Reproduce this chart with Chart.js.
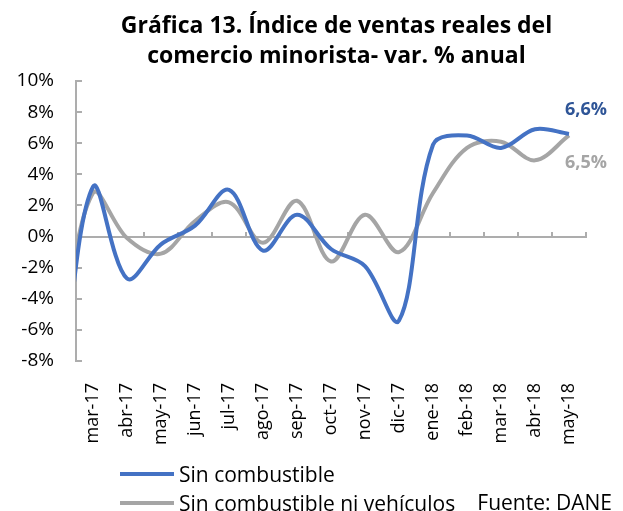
<!DOCTYPE html>
<html>
<head>
<meta charset="utf-8">
<script src="https://cdn.jsdelivr.net/npm/chart.js@4.4.1/dist/chart.umd.min.js"></script>
<style>
  body { margin: 0; background: #fff; font-family: "Open Sans", sans-serif; }
  #wrap { position: relative; width: 623px; height: 511px; overflow: hidden; }
  #title { position: absolute; left: 50px; width: 573px; top: 9px; text-align: center;
           font-size: 23px; font-weight: bold; line-height: 30px; color: #000; }
  #legend { position: absolute; left: 120px; top: 459px; font-size: 21px; color: #000; }
  .row { display: flex; align-items: center; height: 29px; white-space: nowrap; }
  .swatch { width: 54px; height: 4px; margin-right: 5px; }
  #fuente { position: absolute; right: 11px; top: 487px; font-size: 21px; color: #000; line-height: 30px; }
</style>
</head>
<body>
<div id="wrap">
  <canvas id="lineChart" width="623" height="511"></canvas>
  <div id="title">Gráfica 13. Índice de ventas reales del<br>comercio minorista- var. % anual</div>
  <div id="legend"></div>
  <div id="fuente">Fuente: DANE</div>
</div>
<script>
// first month (feb-17) sits left of the axis and is cut off, like in the original
const months = ['feb-17', 'mar-17', 'abr-17', 'may-17', 'jun-17', 'jul-17', 'ago-17', 'sep-17',
  'oct-17', 'nov-17', 'dic-17', 'ene-18', 'feb-18', 'mar-18', 'abr-18', 'may-18'];
const sinCombustible = [-11.0, 3.2, -2.7, -0.5, 0.7, 3.0, -0.9, 1.4, -0.8, -1.9, -5.4, 5.9, 6.5, 5.7, 6.9, 6.6];
const sinCombNiVehiculos = [-7.5, 2.8, -0.1, -1.1, 1.0, 2.2, -0.4, 2.3, -1.6, 1.4, -1.0, 2.8, 5.7, 6.1, 4.9, 6.5];
const yTicks = [-8, -6, -4, -2, 0, 2, 4, 6, 8, 10];

const FONT = '"Open Sans", sans-serif';
const AXIS_GREY = '#ADADAD';

const endLabels = {
  id: 'endLabels',
  afterDatasetsDraw(chart) {
    const ctx = chart.ctx;
    chart.data.datasets.forEach((ds, i) => {
      const meta = chart.getDatasetMeta(i);
      const pt = meta.data[meta.data.length - 1];
      const v = ds.data[ds.data.length - 1];
      ctx.save();
      ctx.font = 'bold 18px ' + FONT;
      ctx.fillStyle = ds.labelColor;
      ctx.textAlign = 'center';
      ctx.textBaseline = 'middle';
      ctx.fillText(v.toFixed(1).replace('.', ',') + '%', pt.x + 17, pt.y + ds.labelDy);
      ctx.restore();
    });
  }
};

const ctx = document.getElementById('lineChart').getContext('2d');
const chart = new Chart(ctx, {
  type: 'line',
  data: {
    labels: months,
    datasets: [
      {
        label: 'Sin combustible',
        data: sinCombustible,
        borderColor: '#4472C4',
        borderWidth: 4,
        pointRadius: 0,
        tension: 0.35,
        fill: false,
        labelColor: '#2F5597',
        labelDy: -24,
      },
      {
        label: 'Sin combustible ni vehículos',
        data: sinCombNiVehiculos,
        borderColor: '#A5A5A5',
        borderWidth: 4,
        pointRadius: 0,
        tension: 0.35,
        fill: false,
        labelColor: '#A5A5A5',
        labelDy: 27,
      },
    ],
  },
  plugins: [endLabels],
  options: {
    responsive: false,
    animation: false,
    layout: { padding: { left: 17, right: 37, top: 81, bottom: 50 } },
    plugins: {
      legend: { display: false },
      tooltip: { enabled: false },
    },
    scales: {
      x: {
        type: 'category',
        min: 'mar-17',
        offset: true,
        grid: { display: false },
        border: { display: false },
        afterFit(scale) { scale.height = 100; },
        ticks: {
          autoSkip: false,
          maxRotation: 90,
          minRotation: 90,
          padding: 14,
          color: '#000',
          font: { family: FONT, size: 18 },
        },
      },
      xz: {
        type: 'category',
        min: 'mar-17',
        offset: true,
        position: { y: 0 },
        grid: { offset: true, drawOnChartArea: false, tickLength: -6, color: AXIS_GREY, lineWidth: 2 },
        border: { color: AXIS_GREY, width: 2 },
        ticks: { display: false },
      },
      y: {
        min: -8,
        max: 10,
        afterBuildTicks(scale) {
          scale.ticks = yTicks.map(v => ({ value: v }));
        },
        afterFit(scale) { scale.width = 59; },
        grid: { drawOnChartArea: false, tickLength: -6, color: AXIS_GREY, lineWidth: 2 },
        border: { color: AXIS_GREY, width: 2 },
        ticks: {
          padding: 28,
          color: '#000',
          font: { family: FONT, size: 19 },
          callback: v => v + '%',
        },
      },
    },
  },
});

// legend built from the datasets, stacked like the original
const legendEl = document.getElementById('legend');
chart.data.datasets.forEach(ds => {
  const row = document.createElement('div');
  row.className = 'row';
  row.innerHTML = `<div class="swatch" style="background:${ds.borderColor}"></div><span>${ds.label}</span>`;
  legendEl.appendChild(row);
});
</script>
</body>
</html>
